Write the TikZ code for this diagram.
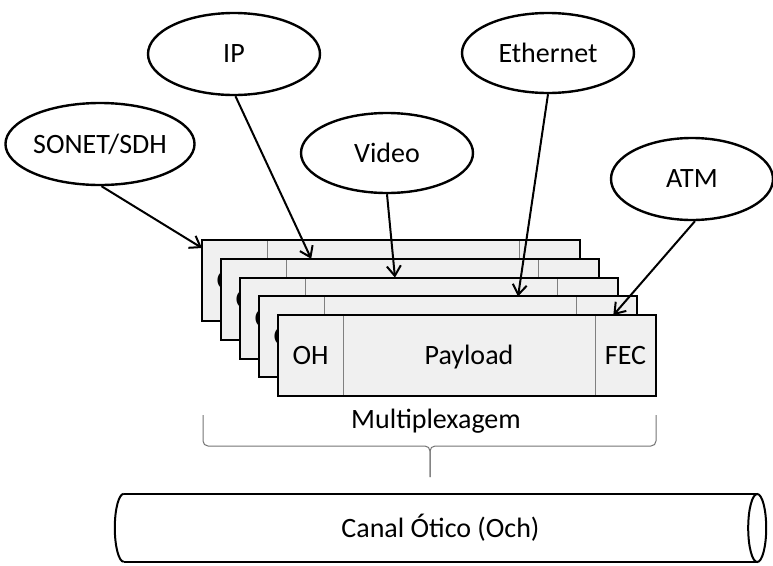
\documentclass[tikz,border=0pt]{standalone}
\usepackage{fontspec}
\setmainfont{Carlito}
\usetikzlibrary{positioning,shapes.geometric,arrows.meta,calc}

\tikzset{
  src/.style={ellipse, draw, line width=2.4pt, inner sep=0pt},
  cell/.style={rectangle, fill=black!6, draw=black!50, line width=0.9pt,
    minimum height=81pt, inner sep=0pt, outer sep=0pt,
    text height=18pt, text depth=0pt},
  frm/.style={draw, line width=2pt},
  feed/.style={-{Straight Barb[length=10pt,width=14pt]}, line width=2pt},
  brace/.style={draw=black!55, line width=1pt, rounded corners=5pt},
  pipe/.style={line width=2pt},
}

\begin{document}
\begin{tikzpicture}[x=1pt, y=-1pt, font=\fontsize{28}{34}\selectfont]
\useasboundingbox (0,0) rectangle (773,565);

% Define nodes
\node[src, minimum width=170pt, minimum height=82pt] (sonet) at (100,144) {SONET/SDH};
\node[src, minimum width=172pt, minimum height=82pt] (ip)    at (234,54)  {IP};
\node[src, minimum width=172pt, minimum height=80pt] (video) at (387,153) {Video};
\node[src, minimum width=172pt, minimum height=80pt] (eth)   at (548,53)  {Ethernet};
\node[src, minimum width=162pt, minimum height=82pt] (atm)   at (692,179) {ATM};

% Frames, back to front
\foreach \i in {0,...,4} {
  \node[cell, minimum width=65pt, anchor=north west] (oh\i) at (202+19*\i, 240+18.8*\i) {OH};
  \node[cell, minimum width=252pt, right=0pt of oh\i] (pay\i) {Payload};
  \node[cell, minimum width=61pt, right=0pt of pay\i] (fec\i) {FEC};
  \draw[frm] (oh\i.north west) rectangle (fec\i.south east);
}

% Connect the nodes
\draw[feed] (sonet.-88) -- ([yshift=-8pt]oh0.north west);
\draw[feed] (ip.-88) -- ($(pay1.north west)!0.1!(pay1.north east)$);
\draw[feed] (video.south) -- ($(pay2.north west)!0.357!(pay2.north east)$);
\draw[feed] (eth.south) -- ($(pay3.north west)!0.77!(pay3.north east)$);
\draw[feed] (atm.-86) -- ($(fec4.north west)!0.3!(fec4.north east)$);

% Multiplexing brace
\node (mux) at (436,421) {Multiplexagem};
\draw[brace] (203,415) -- (203,446) -- (430,446) -- (430,477);
\draw[brace] (656,415) -- (656,446) -- (430,446) -- (430,477);

% Optical channel
\node[minimum width=633pt, minimum height=68pt, inner sep=0pt] (och) at (440.5,528) {Canal Ótico (Och)};
\draw[pipe] (och.north west) -- (och.north east) (och.south west) -- (och.south east);
\draw[pipe] (och.east) ellipse [x radius=9pt, y radius=34pt];
\draw[pipe] (och.north west) arc[start angle=90, end angle=270, x radius=9pt, y radius=34pt];

\end{tikzpicture}
\end{document}
